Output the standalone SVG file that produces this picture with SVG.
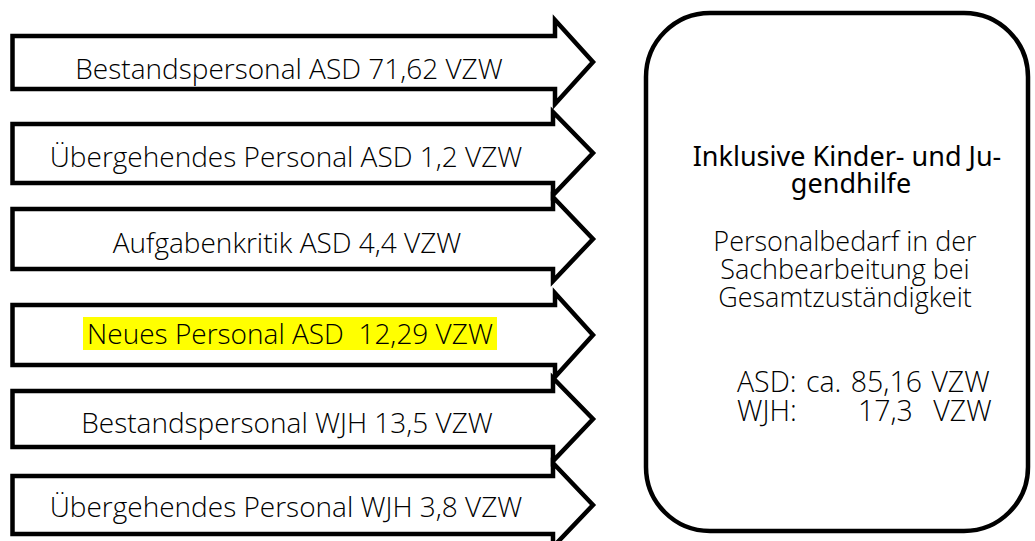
<svg xmlns="http://www.w3.org/2000/svg" width="1035" height="541" viewBox="0 0 1035 541">
<style>
.arrow{fill:#fff;stroke:#000;stroke-width:4.5;stroke-linejoin:miter}
.lt{font-family:"Open Sans","Liberation Sans",sans-serif;font-size:28px;font-weight:300;fill:#000;text-anchor:middle}
.rt{font-family:"Noto Sans","Open Sans",sans-serif;font-size:27px;fill:#000;text-anchor:middle}
.rl{font-family:"Open Sans","Noto Sans",sans-serif;font-size:27px;font-weight:300;fill:#000;text-anchor:middle}
.rn{font-family:"Open Sans","Noto Sans",sans-serif;font-size:28.5px;font-weight:300;fill:#000}
.box{fill:#fff;stroke:#000;stroke-width:4.5}
</style>
<rect width="1035" height="541" fill="#fff"/>
<g id="arrow1">
<path class="arrow" d="M12.5,36 H555 V20 L593,62 L555,104 V89 H12.5 Z"/>
<text class="lt" x="289" y="79">Bestandspersonal ASD 71,62 VZW</text>
</g>
<g id="arrow2">
<path class="arrow" d="M12.5,124 H553 V112 L593,153 L553,195 V183 H12.5 Z"/>
<text class="lt" x="286" y="167">Übergehendes Personal ASD 1,2 VZW</text>
</g>
<g id="arrow3">
<path class="arrow" d="M12.5,209 H553 V197 L593,239 L553,281 V269 H12.5 Z"/>
<text class="lt" x="287" y="253">Aufgabenkritik ASD 4,4 VZW</text>
</g>
<g id="arrow4">
<path class="arrow" d="M12.5,305 H555 V293 L593,335 L555,377 V365 H12.5 Z"/>
<rect x="83" y="317" width="414" height="33" fill="#ffff00"/>
<text class="lt" x="290" y="344" xml:space="preserve">Neues Personal ASD  12,29 VZW</text>
</g>
<g id="arrow5">
<path class="arrow" d="M12.5,391 H553 V378 L593,419 L553,461 V447 H12.5 Z"/>
<text class="lt" x="287" y="433">Bestandspersonal WJH 13,5 VZW</text>
</g>
<g id="arrow6">
<path class="arrow" d="M12.5,476 H553 V463 L593,505 L553,547 V534 H12.5 Z"/>
<text class="lt" x="286" y="517">Übergehendes Personal WJH 3,8 VZW</text>
</g>
<g id="target">
<rect class="box" x="646" y="13" width="382" height="518" rx="64" ry="64"/>
<text class="rt" x="847" y="166">Inklusive Kinder- und Ju-</text>
<text class="rt" x="851" y="193">gendhilfe</text>
<text class="rl" x="845" y="251">Personalbedarf in der</text>
<text class="rl" x="845" y="279">Sachbearbeitung bei</text>
<text class="rl" x="845" y="307">Gesamtzuständigkeit</text>
<text class="rn" x="737" y="392" xml:space="preserve" word-spacing="2">ASD: ca. 85,16 VZW</text>
<text class="rn" x="737" y="421" xml:space="preserve" word-spacing="2.8">WJH:      17,3  VZW</text>
</g>
</svg>
